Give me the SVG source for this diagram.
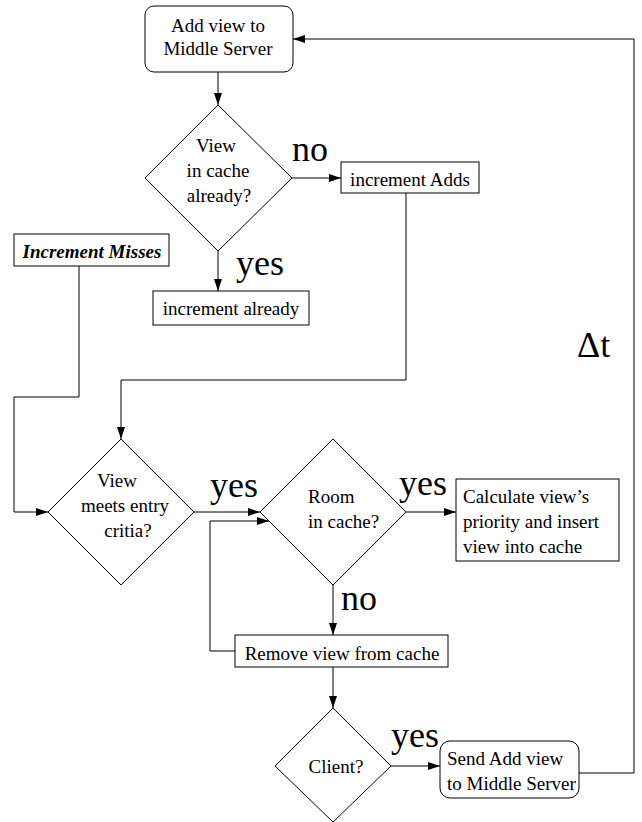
<svg xmlns="http://www.w3.org/2000/svg" width="642" height="822" viewBox="0 0 642 822">
  <style>
    .shape { fill: #ffffff; stroke: #000000; stroke-width: 1; }
    .wire { fill: none; stroke: #000000; stroke-width: 1; }
    .t { font-family: "Liberation Serif", "Times New Roman", serif; font-size: 19px; fill: #000000; }
    .c { text-anchor: middle; }
    .big { font-family: "Liberation Serif", "Times New Roman", serif; font-size: 36px; fill: #000000; }
    .bi { font-weight: bold; font-style: italic; }
  </style>
  <defs>
    <marker id="arrow" viewBox="0 0 12 8" refX="12" refY="4" markerWidth="12" markerHeight="8" markerUnits="userSpaceOnUse" orient="auto">
      <path d="M0,0 L12,4 L0,8 Z" fill="#000000"/>
    </marker>
  </defs>

  <rect width="642" height="822" fill="#ffffff"/>

  <g id="connectors">
    <line class="wire" x1="218" y1="72" x2="218" y2="105" marker-end="url(#arrow)"/>
    <line class="wire" x1="292" y1="178" x2="341" y2="178" marker-end="url(#arrow)"/>
    <line class="wire" x1="218" y1="251" x2="218" y2="291" marker-end="url(#arrow)"/>
    <polyline class="wire" points="406,193 406,380 121,380 121,439" marker-end="url(#arrow)"/>
    <polyline class="wire" points="79,266 79,397 14,397 14,512 48,512" marker-end="url(#arrow)"/>
    <line class="wire" x1="194" y1="512" x2="260" y2="512" marker-end="url(#arrow)"/>
    <polyline class="wire" points="235,651 210,651 210,521 269,521" marker-end="url(#arrow)"/>
    <line class="wire" x1="406" y1="512" x2="456" y2="512" marker-end="url(#arrow)"/>
    <line class="wire" x1="333" y1="585" x2="333" y2="635" marker-end="url(#arrow)"/>
    <line class="wire" x1="333" y1="667" x2="333" y2="708" marker-end="url(#arrow)"/>
    <line class="wire" x1="391" y1="766" x2="440" y2="766" marker-end="url(#arrow)"/>
    <polyline class="wire" points="579,773 634,773 634,39 293,39" marker-end="url(#arrow)"/>
  </g>

  <g id="labels">
    <text class="big" x="292" y="161">no</text>
    <text class="big" x="236" y="275">yes</text>
    <text class="big" x="210" y="497">yes</text>
    <text class="big" x="399" y="495">yes</text>
    <text class="big" x="341" y="610">no</text>
    <text class="big" x="391" y="747">yes</text>
    <text class="big" x="577" y="357" font-size="52">Δt</text>
  </g>

  <g id="add-view">
    <rect class="shape" x="145" y="6" width="148" height="66" rx="9"/>
    <text class="t c" x="218" y="32">Add view to</text>
    <text class="t c" x="218" y="55">Middle Server</text>
  </g>

  <g id="in-cache">
    <polygon class="shape" points="218,105 292,178 218,251 145,178"/>
    <text class="t c" x="216" y="152">View</text>
    <text class="t c" x="218" y="177">in cache</text>
    <text class="t c" x="219" y="202">already?</text>
  </g>

  <g id="increment-adds">
    <rect class="shape" x="341" y="162" width="138" height="31"/>
    <text class="t c" x="410" y="186">increment Adds</text>
  </g>

  <g id="increment-misses">
    <rect class="shape" x="14" y="234" width="155" height="32"/>
    <text class="t c bi" x="92" y="258">Increment Misses</text>
  </g>

  <g id="increment-already">
    <rect class="shape" x="153" y="291" width="156" height="34"/>
    <text class="t c" x="231" y="315">increment already</text>
  </g>

  <g id="entry-criteria">
    <polygon class="shape" points="121,439 194,512 121,585 48,512"/>
    <text class="t c" x="117" y="487">View</text>
    <text class="t c" x="125" y="512">meets entry</text>
    <text class="t c" x="128" y="537">critia?</text>
  </g>

  <g id="room-in-cache">
    <polygon class="shape" points="333,439 406,512 333,585 260,512"/>
    <text class="t" x="308" y="503">Room</text>
    <text class="t" x="308" y="528">in cache?</text>
  </g>

  <g id="insert-view">
    <rect class="shape" x="456" y="479" width="163" height="82"/>
    <text class="t" x="463" y="503">Calculate view’s</text>
    <text class="t" x="463" y="528">priority and insert</text>
    <text class="t" x="463" y="553">view into cache</text>
  </g>

  <g id="remove-view">
    <rect class="shape" x="235" y="635" width="213" height="32"/>
    <text class="t c" x="342" y="660">Remove view from cache</text>
  </g>

  <g id="client">
    <polygon class="shape" points="333,708 391,766 333,822 275,766"/>
    <text class="t c" x="336" y="773">Client?</text>
  </g>

  <g id="send-add-view">
    <rect class="shape" x="440" y="741" width="139" height="57" rx="10"/>
    <text class="t" x="447" y="765">Send Add view</text>
    <text class="t" x="447" y="790">to Middle Server</text>
  </g>
</svg>
